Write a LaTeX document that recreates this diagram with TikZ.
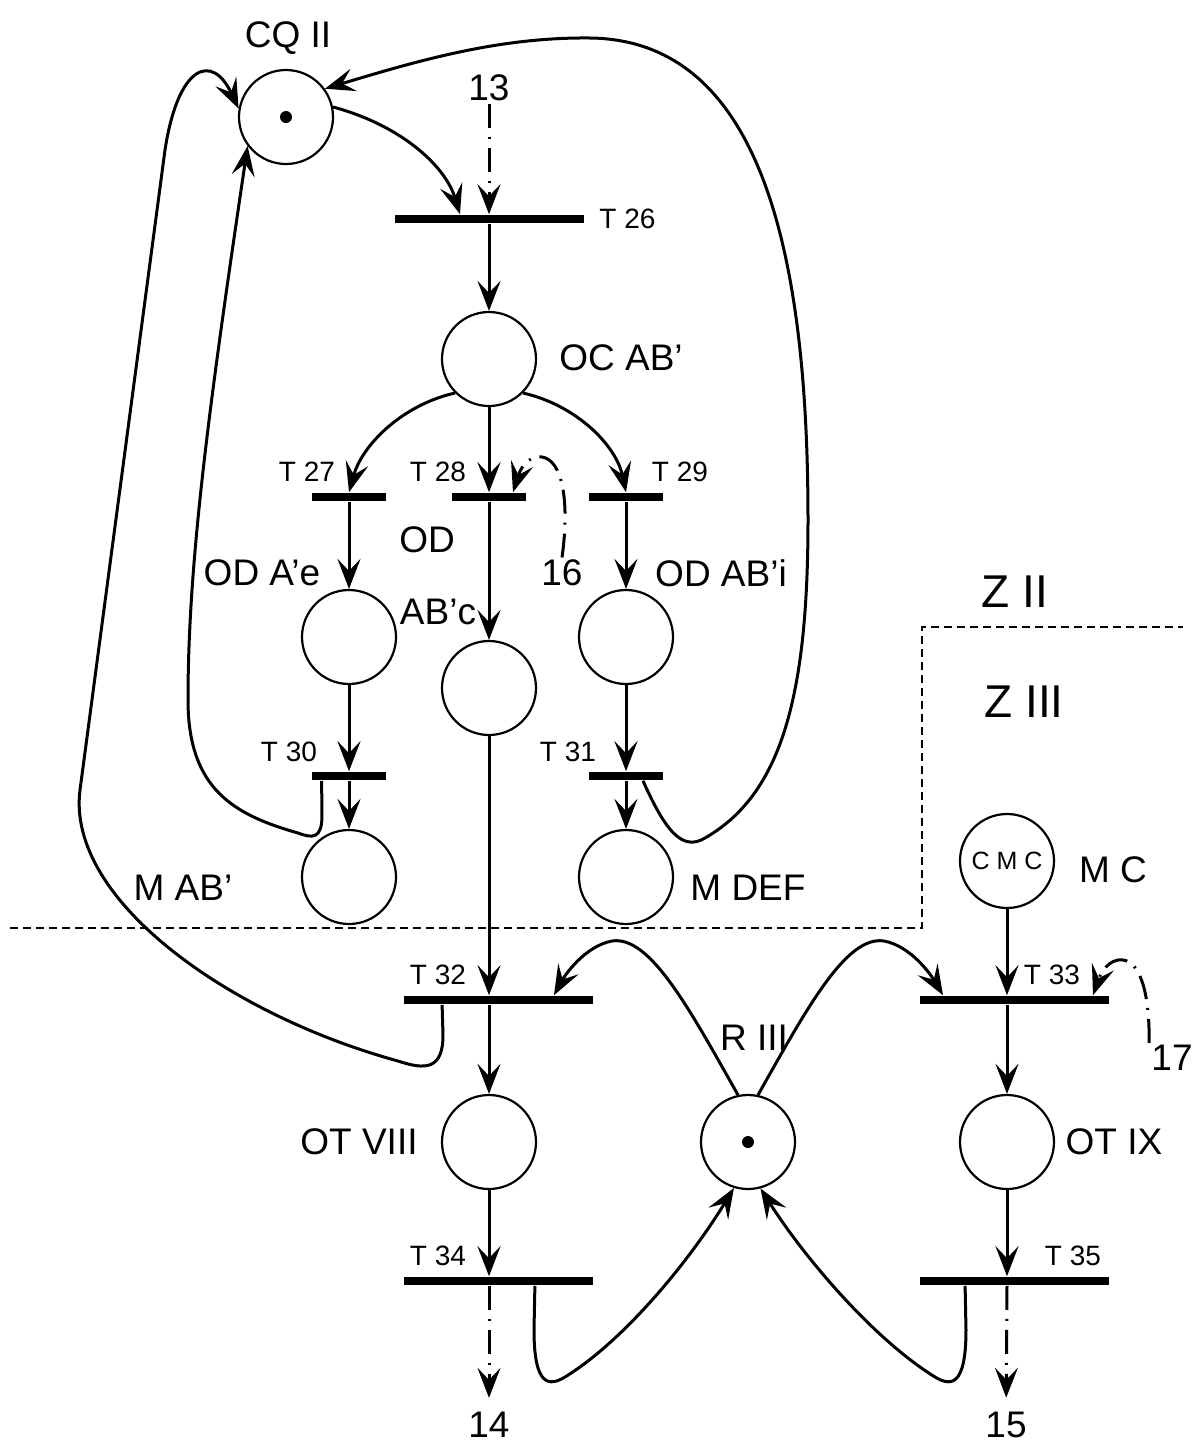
\documentclass[tikz,border=0pt]{standalone}
\usepackage{fontspec}
\setmainfont{Liberation Sans}
\usetikzlibrary{arrows.meta, calc}
\tikzset{
  % Place circle
  placecirc/.style={
    circle, draw, line width=1.1pt,
    minimum size=47pt, inner sep=0pt,
    font=\fontsize{12.5}{14}\selectfont
  },
  % Transition bar
  tbar/.style={
    rectangle, fill=black, draw=none,
    minimum width=94.5pt, minimum height=4.4pt, inner sep=0pt
  },
  tbar short/.style={tbar, minimum width=37pt},
  % Arrows
  arr/.style={-{Stealth[length=15pt,width=11.5pt,inset=6pt]}, line width=1.5pt},
  darr/.style={arr, dash pattern=on 12pt off 4.5pt on 1pt off 4.5pt},
  % Zone border
  zone/.style={line width=0.7pt, dash pattern=on 4pt off 2.5pt},
  % Labels
  plabel/.style={font=\fontsize{18.5}{22}\selectfont, inner sep=1pt},
  zlabel/.style={font=\fontsize{23}{27}\selectfont, inner sep=1pt},
  tlabel/.style={font=\fontsize{14}{17}\selectfont, inner sep=1pt},
}

\begin{document}
\begin{tikzpicture}[x=0.5pt, y=-0.5pt]
  \useasboundingbox (0,0) rectangle (1197,1447);

  %% Places
  \node[placecirc] (cq)   at (286,117)  {};
  \node[placecirc] (oc)   at (489,359)  {};
  \node[placecirc] (oda)  at (349,637)  {};
  \node[placecirc] (odc)  at (489,688)  {};
  \node[placecirc] (odi)  at (626,637)  {};
  \node[placecirc] (mab)  at (349,877)  {};
  \node[placecirc] (mdef) at (626,877)  {};
  \node[placecirc] (mc)   at (1007,861) {C~M~C};
  \node[placecirc] (ot8)  at (489,1142) {};
  \node[placecirc] (r3)   at (748,1142) {};
  \node[placecirc] (ot9)  at (1007,1142) {};

  %% Tokens
  \fill (cq) circle (6);
  \fill (r3) circle (6);

  %% Transitions
  \node[tbar]       (t26) at (489,219)  {};
  \node[tbar short] (t27) at (349,497)  {};
  \node[tbar short] (t28) at (489,497)  {};
  \node[tbar short] (t29) at (626,497)  {};
  \node[tbar short] (t30) at (349,776)  {};
  \node[tbar short] (t31) at (626,776)  {};
  \node[tbar]       (t32) at (498,1000) {};
  \node[tbar]       (t33) at (1014,1000) {};
  \node[tbar]       (t34) at (498,1281) {};
  \node[tbar]       (t35) at (1014,1281) {};

  %% Labels
  \node[plabel] at (288,38) {CQ II};
  \node[plabel] (n13) at (489,88) {13};
  \node[tlabel, anchor=west] at (597,219) {T 26};
  \node[plabel] at (621,358) {OC AB’};
  \node[tlabel] at (307,472) {T 27};
  \node[tlabel] at (438,472) {T 28};
  \node[tlabel] at (680,472) {T 29};
  \node[plabel] at (262,573) {OD A’e};
  \node[plabel] at (427,540) {OD};
  \node[plabel] at (438,612) {AB’c};
  \node[plabel] (n16) at (562,573) {16};
  \node[plabel] at (721,573) {OD AB’i};
  \node[zlabel] at (1015,592) {Z II};
  \node[zlabel] at (1024,702) {Z III};
  \node[tlabel] at (289,752) {T 30};
  \node[tlabel] at (568,752) {T 31};
  \node[plabel] at (183,888) {M AB’};
  \node[plabel] at (748,888) {M DEF};
  \node[plabel] at (1113,870) {M C};
  \node[tlabel] at (438,975) {T 32};
  \node[tlabel] at (1052,975) {T 33};
  \node[plabel] at (754,1038) {R III};
  \node[plabel] (n17) at (1172,1058) {17};
  \node[plabel] at (359,1142) {OT VIII};
  \node[plabel] at (1114,1142) {OT IX};
  \node[tlabel] at (438,1256) {T 34};
  \node[tlabel] at (1073,1256) {T 35};
  \node[plabel] (n14) at (489,1425) {14};
  \node[plabel] (n15) at (1006,1425) {15};

  %% Zone border
  \draw[zone] (10,928) -- (922,928) -- (922,627) -- (1183,627);

  %% Straight arcs
  \draw[arr] (t26) -- (oc);
  \draw[arr] (oc) -- (t28);
  \draw[arr] (t27) -- (oda);
  \draw[arr] (t28) -- (odc);
  \draw[arr] (t29) -- (odi);
  \draw[arr] (oda) -- (t30);
  \draw[arr] (odi) -- (t31);
  \draw[arr] (t30) -- (mab);
  \draw[arr] (t31) -- (mdef);
  \draw[arr] (odc) -- (odc |- t32.north);
  \draw[arr] (ot8 |- t32.south) -- (ot8);
  \draw[arr] (ot8) -- (ot8 |- t34.north);
  \draw[arr] (mc) -- (mc |- t33.north);
  \draw[arr] (ot9 |- t33.south) -- (ot9);
  \draw[arr] (ot9) -- (ot9 |- t35.north);

  %% External links (dash-dot)
  \draw[darr] (n13) -- (t26);
  \draw[darr, shorten >=6pt] (ot8 |- t34.south) -- (n14);
  \draw[darr, shorten >=6pt] (ot9 |- t35.south) -- (n15);
  \draw[darr] (n16.north) .. controls (570,500) and (562,460) .. (542,457)
    .. controls (527,455) and (520,470) .. ($(t28.north)+(24,0)$);
  \draw[darr] (n17.north west) .. controls (1150,1000) and (1142,962) .. (1123,960)
    .. controls (1108,958) and (1100,975) .. ($(t33.north)+(79,0)$);

  %% Curved arcs
  \draw[arr] (cq.12) .. controls (400,125) and (445,165) .. ($(t26.north)+(-29,0)$);
  \draw[arr] (oc.225) .. controls (402,405) and (362,445) .. (t27.north);
  \draw[arr] (oc.-45) .. controls (576,405) and (616,445) .. (t29.north);

  %% Loops back to CQ II
  \draw[arr] ($(t30.south west)+(10,0)$) -- (322,815)
    .. controls (322,840) and (312,838) .. (298,833)
    .. controls (235,815) and (188,790) .. (188,700)
    .. controls (188,560) and (210,400) .. (cq.217);
  \draw[arr] ($(t32.south west)+(39,0)$) -- (443,1035)
    .. controls (443,1070) and (425,1070) .. (398,1061)
    .. controls (230,1015) and (66,900) .. (80,790)
    -- (165,150) .. controls (178,65) and (212,52) .. (cq.170);
  \draw[arr] ($(t31.south)+(17,0)$)
    .. controls (665,830) and (682,852) .. (705,838)
    .. controls (780,795) and (808,700) .. (808,520)
    .. controls (808,250) and (760,40) .. (590,38)
    .. controls (500,37) and (420,60) .. (cq.36);

  %% Resource R III
  \draw[arr] (r3.102) .. controls (690,1010) and (650,935) .. (612,941)
    .. controls (585,946) and (565,975) .. ($(t32.north)+(56,0)$);
  \draw[arr] (r3.78) .. controls (806,1010) and (846,935) .. (884,941)
    .. controls (911,946) and (931,975) .. ($(t33.north)+(-71,0)$);
  \draw[arr] ($(t34.south east)+(-58,0)$) -- (534,1330)
    .. controls (534,1388) and (550,1386) .. (565,1377)
    .. controls (625,1340) and (690,1260) .. (r3.-107);
  \draw[arr] ($(t35.south west)+(46,0)$) -- (966,1330)
    .. controls (966,1388) and (950,1386) .. (935,1377)
    .. controls (875,1340) and (806,1260) .. (r3.-75);

\end{tikzpicture}
\end{document}
